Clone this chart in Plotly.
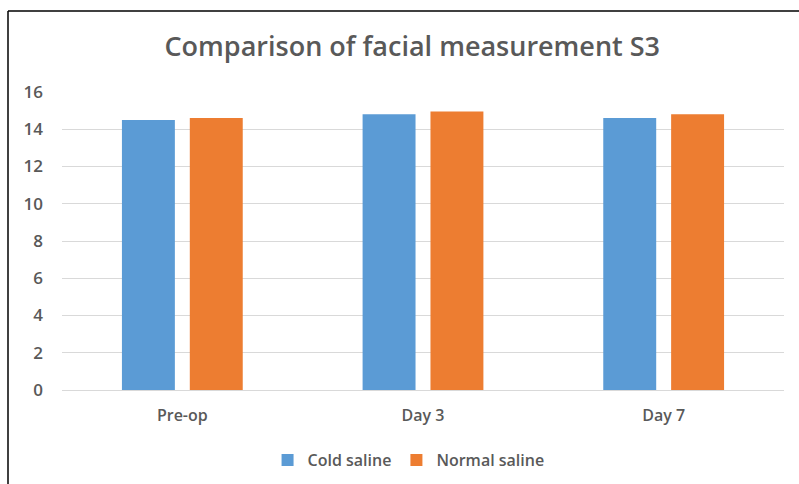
import plotly.graph_objects as go

categories = ["Pre-op", "Day 3", "Day 7"]
cold_saline = [14.5, 14.8, 14.6]
normal_saline = [14.6, 14.95, 14.8]
y_ticks = [0, 2, 4, 6, 8, 10, 12, 14, 16]

font_family = "Open Sans, Liberation Sans, sans-serif"
grey = "#595959"

fig = go.Figure()
fig.add_trace(go.Bar(name="Cold saline", x=categories, y=cold_saline,
                     marker=dict(color="#5B9BD5", line=dict(width=0))))
fig.add_trace(go.Bar(name="Normal saline", x=categories, y=normal_saline,
                     marker=dict(color="#ED7D31", line=dict(width=0))))

fig.update_layout(
    width=799, height=484,
    margin=dict(l=62, r=15, t=92, b=94, autoexpand=False),
    paper_bgcolor="white", plot_bgcolor="white",
    barmode="group", bargap=0.436, bargroupgap=0.22,
    title=dict(text="Comparison of facial measurement S3", x=0.516, xanchor="center",
               y=1 - 47/484, yanchor="middle",
               font=dict(family=font_family, size=27, color=grey, weight=600)),
    xaxis=dict(showgrid=False, showline=False, zeroline=False, ticks="",
               tickfont=dict(family=font_family, size=16, color=grey, weight=600),
               ticklabelstandoff=14, range=[-0.5, 2.5]),
    yaxis=dict(range=[0, 16], tickvals=y_ticks, showgrid=True, gridcolor="#D9D9D9",
               gridwidth=1.3, zeroline=True, zerolinecolor="#D9D9D9", zerolinewidth=1.3,
               showline=False, ticks="", ticklabelstandoff=18,
               tickfont=dict(family=font_family, size=17, color=grey, weight=600)),
    legend=dict(orientation="h", x=0.48, xanchor="center", y=-0.235, yanchor="middle",
                font=dict(family=font_family, size=16, color=grey, weight=600),
                itemwidth=30, traceorder="normal"),
    shapes=[
        dict(type="line", xref="paper", yref="paper",
             x0=(8-62)/722, x1=(8-62)/722, y0=(390-11)/298, y1=(390-484)/298,
             line=dict(color="black", width=1.5)),
        dict(type="line", xref="paper", yref="paper",
             x0=(8-62)/722, x1=(799-62)/722, y0=(390-11)/298, y1=(390-11)/298,
             line=dict(color="black", width=1.5)),
    ],
)

fig.write_html("out.html", config={"displayModeBar": False},
               post_script="document.body.style.margin='0';")
